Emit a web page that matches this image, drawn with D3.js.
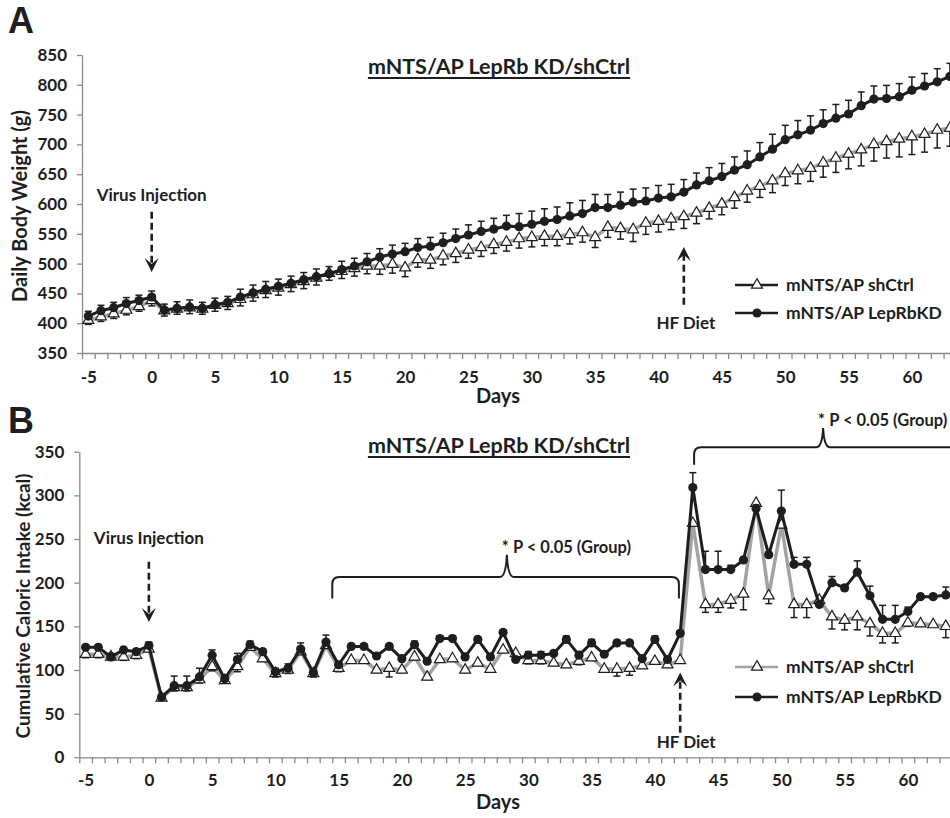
<!DOCTYPE html>
<html lang="en">
  <head>
    <meta charset="utf-8">
    <title>mNTS/AP LepRb KD/shCtrl</title>
    <script src="https://cdn.jsdelivr.net/npm/d3@7"></script>
    <style>
      body { margin: 0; background: #fff; }
      text { font-family: Lato, 'Open Sans', sans-serif; font-weight: bold; fill: #1e1e1e; }
    </style>
  </head>

  <body>
    <script>
      // categories (days relative to virus injection)
      var days = [-5, -4, -3, -2, -1, 0,
        1, 2, 3, 4, 5, 6, 7, 8, 9, 10,
        11, 12, 13, 14, 15, 16, 17, 18, 19, 20,
        21, 22, 23, 24, 25, 26, 27, 28, 29, 30,
        31, 32, 33, 34, 35, 36, 37, 38, 39, 40,
        41, 42, 43, 44, 45, 46, 47, 48, 49, 50,
        51, 52, 53, 54, 55, 56, 57, 58, 59, 60,
        61, 62, 63]
      var dayTicks = [-5, 0, 5, 10, 15, 20, 25, 30, 35, 40, 45, 50, 55, 60]
      var weightTicks = [350, 400, 450, 500, 550, 600, 650, 700, 750, 800, 850]
      var kcalTicks = [0, 50, 100, 150, 200, 250, 300, 350]

      // panel A: daily body weight (g)
      var weightKD = [412, 421, 426, 433, 438, 444,
        422, 425, 427, 425, 431, 435, 444, 451, 457, 462,
        467, 473, 478, 483, 490, 496, 503, 511, 516, 520,
        527, 529, 535, 542, 548, 554, 558, 563, 562, 566,
        571, 574, 580, 584, 594, 594, 598, 603, 605, 610,
        612, 620, 632, 639, 646, 657, 666, 679, 692, 708,
        716, 724, 735, 744, 751, 765, 776, 777, 780, 791,
        798, 805, 814]
      var weightKDErr = [8, 9, 9, 10, 9, 10,
        10, 11, 12, 10, 11, 10, 13, 13, 13, 12,
        12, 12, 13, 12, 14, 13, 14, 14, 15, 14,
        15, 15, 16, 16, 17, 17, 18, 18, 22, 22,
        21, 21, 22, 22, 22, 22, 22, 22, 22, 21,
        21, 21, 20, 22, 22, 22, 23, 24, 25, 24,
        24, 24, 23, 23, 23, 23, 22, 22, 22, 22,
        21, 22, 22]
      var weightCtrl = [405, 411, 416, 422, 428, 438,
        421, 424, 426, 424, 430, 433, 440, 448, 455, 459,
        465, 470, 476, 484, 487, 492, 496, 496, 499, 493,
        507, 506, 513, 517, 523, 527, 532, 536, 542, 544,
        546, 546, 549, 552, 544, 561, 559, 557, 568, 571,
        575, 579, 585, 593, 600, 611, 622, 630, 639, 651,
        656, 660, 669, 677, 684, 691, 700, 705, 709, 713,
        717, 724, 727]
      var weightCtrlErr = [7, 8, 8, 8, 8, 9,
        9, 9, 10, 9, 10, 10, 11, 11, 12, 12,
        12, 12, 12, 12, 12, 13, 13, 14, 15, 15,
        13, 14, 15, 15, 14, 15, 15, 15, 16, 16,
        16, 16, 16, 16, 17, 17, 18, 20, 19, 18,
        18, 20, 18, 18, 18, 18, 19, 19, 20, 20,
        22, 22, 24, 24, 25, 27, 28, 28, 30, 30,
        30, 30, 30]

      // panel B: caloric intake (kcal)
      var kcalKD = [126, 126, 115, 123, 121, 128,
        69, 82, 82, 92, 117, 90, 112, 129, 121, 98,
        102, 124, 97, 132, 106, 127, 127, 116, 127, 113,
        129, 110, 136, 136, 115, 135, 115, 143, 112, 117,
        117, 119, 135, 117, 131, 118, 131, 131, 113, 135,
        112, 142, 309, 215, 215, 215, 226, 285, 232, 282,
        221, 221, 175, 200, 194, 212, 185, 158, 158, 167,
        184, 184, 186]
      var kcalKDErr = [3, 3, 4, 3, 3, 4,
        3, 11, 11, 10, 6, 3, 7, 4, 3, 4,
        5, 7, 3, 8, 3, 3, 3, 3, 3, 3,
        4, 3, 3, 3, 3, 3, 3, 3, 3, 4,
        4, 3, 4, 3, 4, 3, 3, 3, 3, 4,
        3, 3, 17, 21, 21, 5, 3, 4, 3, 24,
        8, 8, 3, 7, 3, 13, 11, 16, 16, 5,
        3, 3, 9]
      var kcalCtrl = [118, 118, 115, 115, 117, 124,
        68, 80, 80, 89, 104, 88, 104, 126, 113, 96,
        100, 121, 96, 128, 102, 111, 111, 100, 102, 100,
        115, 92, 112, 113, 100, 108, 101, 123, 119, 111,
        111, 108, 106, 110, 114, 101, 101, 102, 105, 110,
        106, 111, 268, 175, 175, 180, 187, 291, 185, 266,
        175, 175, 180, 161, 157, 161, 153, 142, 142, 154,
        153, 152, 150]
      var kcalCtrlErr = [4, 4, 4, 4, 4, 3,
        3, 4, 4, 4, 5, 3, 6, 3, 3, 4,
        4, 3, 4, 3, 4, 3, 3, 3, 10, 3,
        3, 3, 3, 3, 3, 3, 3, 3, 3, 4,
        4, 3, 3, 4, 3, 3, 8, 8, 3, 3,
        3, 3, 3, 9, 9, 9, 18, 3, 9, 3,
        15, 15, 5, 14, 11, 15, 14, 11, 11, 4,
        3, 3, 13]

      var seriesNames = ['mNTS/AP shCtrl', 'mNTS/AP LepRbKD']
      var titleText = 'mNTS/AP LepRb KD/shCtrl'

      var gray = '#a3a3a3', ink = '#1e1e1e', axisColor = '#8a8a8a'
      var svg = d3.select('body').append('svg').attr('width', 950).attr('height', 818)

      function rows(vals, errs) {
        return days.map(function(d, i) { return {day: d, value: vals[i], err: errs[i]} })
      }

      function drawArrow(g, x, yFrom, yTip) {
        var dir = yTip > yFrom ? 1 : -1
        g.append('line')
          .attr('x1', x).attr('x2', x)
          .attr('y1', yFrom).attr('y2', yTip - dir * 8)
          .attr('stroke', ink).attr('stroke-width', 2.6)
          .attr('stroke-dasharray', '7,4')
        g.append('path')
          .attr('d', 'M' + x + ',' + yTip +
            'L' + (x - 7) + ',' + (yTip - dir * 14) +
            'L' + x + ',' + (yTip - dir * 8) +
            'L' + (x + 7) + ',' + (yTip - dir * 14) + 'Z')
          .attr('fill', ink)
      }

      function drawBrace(g, x1, x2, xm, yh, yEnd, yTop) {
        var r = 7
        var p = 'M' + x1 + ',' + yEnd +
          'L' + x1 + ',' + (yh + r) +
          'Q' + x1 + ',' + yh + ' ' + (x1 + r) + ',' + yh +
          'L' + (xm - 7) + ',' + yh +
          'Q' + (xm - 1) + ',' + yh + ' ' + xm + ',' + yTop +
          'Q' + (xm + 1) + ',' + yh + ' ' + (xm + 7) + ',' + yh +
          'L' + (x2 - r) + ',' + yh +
          'Q' + x2 + ',' + yh + ' ' + x2 + ',' + (yh + r) +
          'L' + x2 + ',' + yEnd
        g.append('path').attr('d', p).attr('fill', 'none')
          .attr('stroke', ink).attr('stroke-width', 2)
      }

      function drawErrors(g, data, x, y, dir) {
        var eb = g.append('g').attr('stroke', ink).attr('stroke-width', 1.5)
        data.forEach(function(d) {
          var cx = x(d.day), y0 = y(d.value), y1 = y(d.value - dir * d.err)
          eb.append('line').attr('x1', cx).attr('x2', cx).attr('y1', y0).attr('y2', y1)
          eb.append('line').attr('x1', cx - 3.5).attr('x2', cx + 3.5).attr('y1', y1).attr('y2', y1)
        })
      }

      function drawPanel(o) {
        var g = svg.append('g')
        var x = o.x, y = o.y

        // panel letter
        g.append('text').attr('x', 8).attr('y', o.letterY)
          .style('font-family', "'Liberation Sans', Arial, sans-serif")
          .style('font-size', '36px').text(o.letter)

        // y axis
        var ya = g.append('g').attr('transform', 'translate(' + x.range()[0] + ',0)')
          .call(d3.axisLeft(y).tickValues(o.yTicks).tickSize(5).tickSizeOuter(0).tickPadding(10))
        ya.selectAll('text').style('font-size', '17px')

        // x axis: ticks between categories, labels under categories
        var bounds = days.map(function(d) { return d - 0.5 }).concat([63.5, 64.5])
        var yBase = y.range()[0]
        g.append('g').attr('transform', 'translate(0,' + yBase + ')')
          .call(d3.axisBottom(x).tickValues(bounds).tickSize(6).tickSizeOuter(0).tickFormat(''))
        var xl = g.append('g').attr('transform', 'translate(0,' + yBase + ')')
          .call(d3.axisBottom(x).tickValues(dayTicks).tickSize(0).tickPadding(o.xPad)
            .tickFormat(function(d) { return String(d) }))
        xl.select('.domain').remove()
        xl.selectAll('text').style('font-size', '17px')
        g.selectAll('.domain, .tick line').attr('stroke', axisColor).attr('stroke-width', 1.3)

        // axis titles
        g.append('text').attr('x', 498).attr('y', o.daysY)
          .attr('text-anchor', 'middle').style('font-size', '20px').text('Days')
        g.append('text')
          .attr('transform', 'translate(' + o.yTitleX + ',' + o.yTitleY + ') rotate(-90)')
          .attr('text-anchor', 'middle').style('font-size', o.yTitleSize).text(o.yTitle)

        // title with underline
        var t = g.append('text').attr('x', 499).attr('y', o.titleY)
          .attr('text-anchor', 'middle').style('font-size', '21.5px').text(titleText)
        var tw = t.node().getComputedTextLength()
        g.append('line').attr('x1', 499 - tw / 2).attr('x2', 499 + tw / 2)
          .attr('y1', o.titleY + 4).attr('y2', o.titleY + 4)
          .attr('stroke', ink).attr('stroke-width', 2)

        var line = d3.line().x(function(d) { return x(d.day) }).y(function(d) { return y(d.value) })
        var ctrl = rows(o.ctrl, o.ctrlErr), kd = rows(o.kd, o.kdErr)

        // shCtrl: gray line, error bars down, open triangles
        g.append('path').datum(ctrl).attr('d', line).attr('fill', 'none')
          .attr('stroke', gray).attr('stroke-width', 3.5).attr('stroke-linejoin', 'round')
        drawErrors(g, ctrl, x, y, 1)
        g.selectAll('path.tri').data(ctrl).enter().append('path').attr('class', 'tri')
          .attr('d', d3.symbol(d3.symbolTriangle).size(52))
          .attr('transform', function(d) { return 'translate(' + x(d.day) + ',' + y(d.value) + ')' })
          .attr('fill', '#fff').attr('stroke', ink).attr('stroke-width', 1.2)

        // LepRbKD: black line, error bars up, filled circles
        g.append('path').datum(kd).attr('d', line).attr('fill', 'none')
          .attr('stroke', ink).attr('stroke-width', 3).attr('stroke-linejoin', 'round')
        drawErrors(g, kd, x, y, -1)
        g.selectAll('circle.dot').data(kd).enter().append('circle').attr('class', 'dot')
          .attr('cx', function(d) { return x(d.day) })
          .attr('cy', function(d) { return y(d.value) })
          .attr('r', 4.6).attr('fill', ink)

        // legend
        var lg = g.append('g')
        seriesNames.forEach(function(name, i) {
          var ly = o.legendY + i * o.legendGap
          lg.append('line').attr('x1', 735).attr('x2', 778).attr('y1', ly).attr('y2', ly)
            .attr('stroke', i == 0 ? o.legendCtrlColor : ink).attr('stroke-width', 2.6)
          if (i == 0) {
            lg.append('path').attr('d', d3.symbol(d3.symbolTriangle).size(52))
              .attr('transform', 'translate(757,' + ly + ')')
              .attr('fill', '#fff').attr('stroke', ink).attr('stroke-width', 1.2)
          } else {
            lg.append('circle').attr('cx', 757).attr('cy', ly).attr('r', 4.6).attr('fill', ink)
          }
          lg.append('text').attr('x', 786).attr('y', ly).attr('dy', '0.35em')
            .style('font-size', '17.5px').text(name)
        })
        return g
      }

      // ---- panel A ----
      var xA = d3.scaleLinear().domain([-5.5, 64.5]).range([82, 82 + 70 * 12.67])
      var yA = d3.scaleLinear().domain([350, 850]).range([353, 55])
      var gA = drawPanel({
        letter: 'A', letterY: 33, x: xA, y: yA, yTicks: weightTicks, xPad: 18,
        daysY: 403, yTitle: 'Daily Body Weight (g)', yTitleX: 27, yTitleY: 206, yTitleSize: '20px',
        titleY: 74, ctrl: weightCtrl, ctrlErr: weightCtrlErr, kd: weightKD, kdErr: weightKDErr,
        legendY: 285, legendGap: 28, legendCtrlColor: ink
      })
      gA.append('text').attr('x', xA(0)).attr('y', yA(615)).attr('dy', '0.35em')
        .attr('text-anchor', 'middle').style('font-size', '17px').text('Virus Injection')
      drawArrow(gA, xA(0), yA(587), yA(486))
      gA.append('text').attr('x', xA(42) + 2).attr('y', yA(400)).attr('dy', '0.35em')
        .attr('text-anchor', 'middle').style('font-size', '17px').text('HF Diet')
      drawArrow(gA, xA(42), yA(431), yA(528))

      // ---- panel B ----
      var xB = d3.scaleLinear().domain([-5.5, 64.5]).range([79.3, 79.3 + 70 * 12.65])
      var yB = d3.scaleLinear().domain([0, 350]).range([757.3, 451.7])
      var gB = drawPanel({
        letter: 'B', letterY: 433, x: xB, y: yB, yTicks: kcalTicks, xPad: 17,
        daysY: 809, yTitle: 'Cumulative Caloric Intake (kcal)', yTitleX: 30, yTitleY: 606, yTitleSize: '19px',
        titleY: 453, ctrl: kcalCtrl, ctrlErr: kcalCtrlErr, kd: kcalKD, kdErr: kcalKDErr,
        legendY: 667, legendGap: 30, legendCtrlColor: gray
      })
      gB.append('text').attr('x', xB(0)).attr('y', yB(251)).attr('dy', '0.35em')
        .attr('text-anchor', 'middle').style('font-size', '17px').text('Virus Injection')
      drawArrow(gB, xB(0), yB(224), yB(155))
      gB.append('text').attr('x', xB(42) + 6).attr('y', yB(18)).attr('dy', '0.35em')
        .attr('text-anchor', 'middle').style('font-size', '17px').text('HF Diet')
      drawArrow(gB, xB(42), yB(28), yB(97))

      // significance braces
      drawBrace(gB, xB(14.5), xB(41.9), xB(28.3), yB(206.5), yB(182), yB(232))
      gB.append('text').attr('x', xB(28.3) - 5).attr('y', yB(232) - 2)
        .style('font-size', '16.5px').text('* P < 0.05 (Group)')
      drawBrace(gB, xB(43.1), xB(70), xB(53.3), yB(355), yB(335), yB(377))
      gB.append('text').attr('x', xB(53.3) - 5).attr('y', yB(377) - 2)
        .style('font-size', '16.5px').text('* P < 0.05 (Group)')
    </script>
  </body>
</html>
